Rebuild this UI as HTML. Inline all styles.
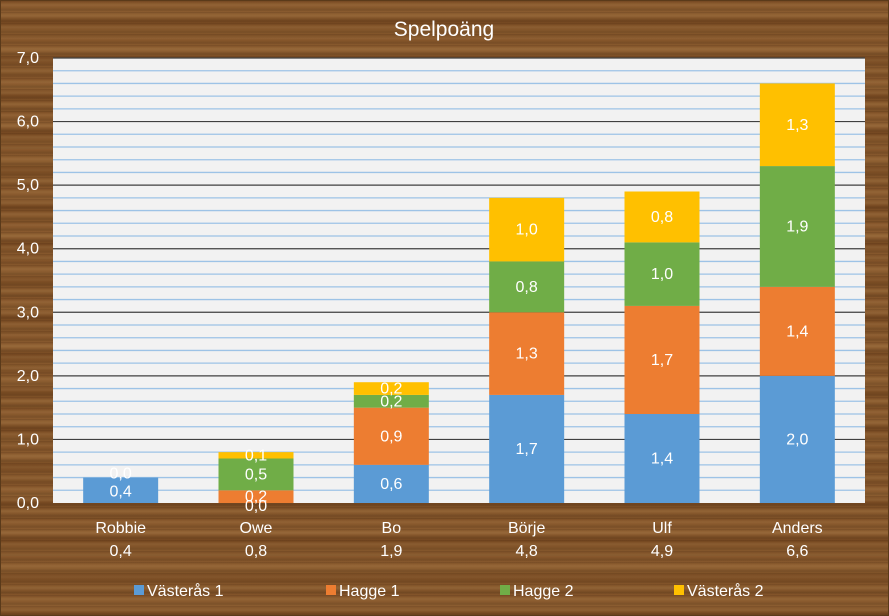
<!DOCTYPE html>
<html><head><meta charset="utf-8"><style>
html,body{margin:0;padding:0;}
body{width:889px;height:616px;overflow:hidden;}
#wood{position:absolute;left:0;top:0;width:889px;height:616px;box-sizing:border-box;border:1px solid #5a3a1a;
background:
repeating-linear-gradient(180deg,rgba(60,30,10,0.25) 0px,rgba(60,30,10,0) 2px,rgba(255,220,160,0.08) 4px,rgba(60,30,10,0) 6px,rgba(40,20,5,0.18) 9px,rgba(0,0,0,0) 11px),
repeating-linear-gradient(180deg,#85552a 0px,#8f6032 13px,#784a22 21px,#8a5b2e 30px,#7f5228 37px);}
svg{position:absolute;left:0;top:0;}
text{font-family:"Liberation Sans",sans-serif;fill:#fff;}
</style></head><body>
<div id="wood"></div>
<svg id="s" width="889" height="616" xmlns="http://www.w3.org/2000/svg"></svg>
<script>
const s=document.getElementById('s');let h='';
const L=53,R=865,T=58,B=503,U=(B-T)/7;
const y=v=>B-U*v;
h+=`<rect x="${L}" y="${T}" width="${R-L}" height="${B-T}" fill="#f2f2f2"/>`;
for(let i=1;i<35;i++){if(i%5==0)continue;h+=`<line x1="${L}" x2="${R}" y1="${y(i*0.2)}" y2="${y(i*0.2)}" stroke="#9dc3e6" stroke-width="1.3"/>`;}
for(let i=1;i<=7;i++){h+=`<line x1="${L}" x2="${R}" y1="${y(i)}" y2="${y(i)}" stroke="#404040" stroke-width="1.2"/>`;}
for(let i=0;i<=7;i++){h+=`<text x="39" y="${y(i)+5}" font-size="16" text-anchor="end">${i},0</text>`;}
h+=`<text x="444" y="36" font-size="21" text-anchor="middle">Spelpoäng</text>`;
const cols=['#5b9bd5','#ed7d31','#70ad47','#ffc000'];
const names=['Robbie','Owe','Bo','Börje','Ulf','Anders'];
const data=[[0.4,0,0,0],[0,0.2,0.5,0.1],[0.6,0.9,0.2,0.2],[1.7,1.3,0.8,1.0],[1.4,1.7,1.0,0.8],[2.0,1.4,1.9,1.3]];
const tot=['0,4','0,8','1,9','4,8','4,9','6,6'];
const cw=(R-L)/6;
data.forEach((d,i)=>{const cx=L+cw*(i+0.5);let b=0;
 d.forEach((v,k)=>{if(v>0)h+=`<rect x="${cx-37.5}" y="${y(b+v)}" width="75" height="${U*v}" fill="${cols[k]}"/>`;b+=v;});
 b=0;let txt='';
 d.forEach((v,k)=>{let t=v.toFixed(1).replace('.',',');let my=y(b+v/2)+5;
  if(i==0&&k==0)my=y(0.2)+6; if(i==0&&k==3){t='0,0';my=y(0.4)+1;}
  if(i==0&&(k==1||k==2)){b+=v;return;}
  if(i==1&&k==0)my=B+8;
  txt+=`<text x="${cx}" y="${my}" font-size="16" text-anchor="middle">${t}</text>`;b+=v;});
 h+=txt;
 h+=`<text x="${cx}" y="533" font-size="16" text-anchor="middle">${names[i]}</text>`;
 h+=`<text x="${cx}" y="556" font-size="16" text-anchor="middle">${tot[i]}</text>`;
});
const lg=[[134,'Västerås 1'],[326,'Hagge 1'],[500,'Hagge 2'],[674,'Västerås 2']];
lg.forEach((l,k)=>{h+=`<rect x="${l[0]}" y="585" width="10" height="10" fill="${cols[k]}"/><text x="${l[0]+13}" y="596" font-size="16">${l[1]}</text>`;});
s.innerHTML=h;
</script>
</body></html>
